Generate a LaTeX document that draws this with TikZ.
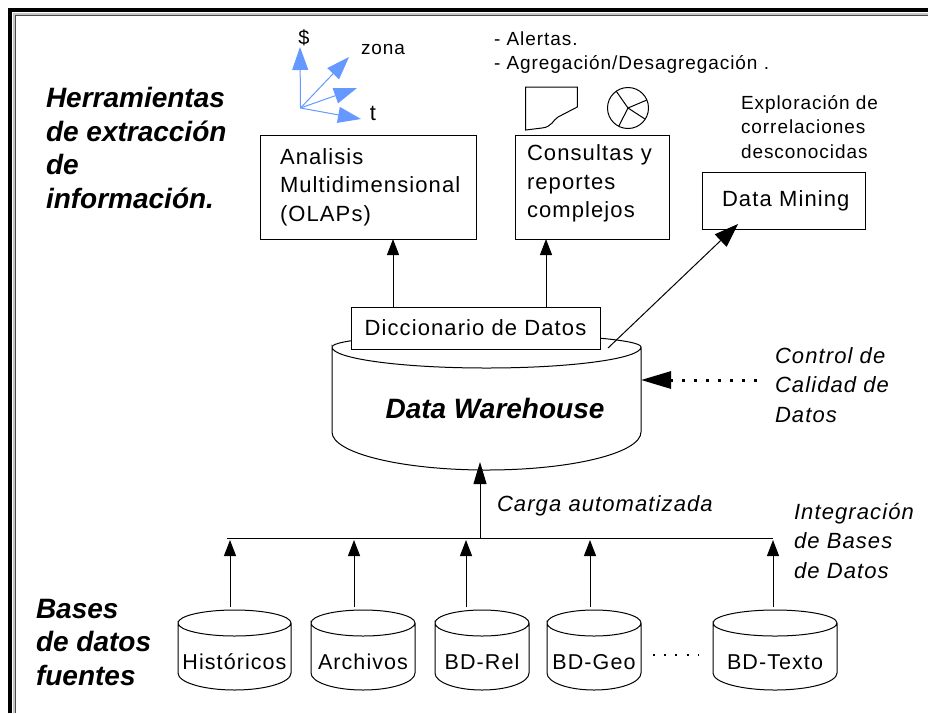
\documentclass[tikz,border=0pt]{standalone}
\usepackage{fontspec}
\setmainfont[LetterSpace=5]{Liberation Sans}
\newfontfamily\fuentetitulo{Liberation Sans}
\usetikzlibrary{positioning}
\usetikzlibrary{arrows.meta}
\definecolor{azuleje}{HTML}{6699FF}
% nodo, medio ancho, tapa detras, tapa delante, fondo
\newcommand{\cilindro}[5]{
    \draw[linea] ([yshift=-#3pt]#1.north west) arc[start angle=180, delta angle=-180, x radius=#2pt, y radius=#3pt]
        arc[start angle=0, delta angle=-180, x radius=#2pt, y radius=#4pt]
        -- ([yshift=#5pt]#1.south west) arc[start angle=180, delta angle=180, x radius=#2pt, y radius=#5pt]
        -- ([yshift=-#3pt]#1.north east);
}

\begin{document}
\begin{tikzpicture}[
        x=1pt, y=-1pt,
        every node/.style={inner sep=0pt, outer sep=0pt},
        linea/.style={line width=1pt},
        flecha/.style={linea, -{Triangle[length=16pt,width=12pt]}},
        eje/.style={line width=1pt, azuleje, -{Triangle[length=23pt,width=16pt]}},
        caja/.style={rectangle, draw, line width=1pt, fill=white, font=\fontsize{22}{28.7}\selectfont},
        base/.style={rectangle, minimum height=80pt, text height=38pt, text depth=0pt, font=\fontsize{21.5}{26}\selectfont},
        titulo/.style={align=left, anchor=west, font=\fuentetitulo\bfseries\itshape\fontsize{28}{33.5}\selectfont},
        nota/.style={align=left, anchor=west, font=\itshape\fontsize{22}{29.3}\selectfont},
        texto/.style={align=left, anchor=west, font=\fontsize{19}{24.5}\selectfont}
    ]
        \useasboundingbox (0,0) rectangle (928,713);

        % marco
        \draw[line width=4.5pt] (10.2,713) -- (10.2,10.2) -- (928,10.2);
        \draw[line width=2pt, gray!45] (13.5,713) -- (13.5,13.5) -- (928,13.5);
        \draw[line width=1.3pt, gray!60!black] (15.3,713) -- (15.3,15.3) -- (928,15.3);

        % titulos
        \node[titulo] (herramientas) at (46,148) {Herramientas\\de extracción\\de\\información.};
        \node[titulo] (fuentes) at (36,642) {Bases\\de datos\\fuentes};

        % ejes
        \coordinate (origen) at (300.5,108);
        \coordinate (ejea) at (300,47);
        \coordinate (ejeb) at (349,57);
        \coordinate (ejec) at (357,88);
        \coordinate (ejed) at (361,119);
        \foreach \e in {ejea,ejeb,ejec,ejed}
            \draw[eje] (origen) -- (\e);
        \node[font=\fontsize{20}{24}\selectfont] (dolar) at (304,38) {\$};
        \node[texto] (zona) at (361,49) {zona};
        \node[font=\fontsize{22}{24}\selectfont] (tiempo) at (373,113) {t};

        \node[texto] (alertas) at (494,52.5) {- Alertas.\\- Agregación/Desagregación .};

        % iconos
        \draw[linea] (525.7,87) -- (577.3,87) -- (577.3,107) -- (558,117) .. controls (553,120) and (552,127) .. (542,128) -- (525.7,130) -- cycle;
        \node[circle, draw, line width=1pt, minimum size=41pt] (pastel) at (628,108) {};
        \foreach \a in {125,23,-33,-117}
            \draw[linea] (pastel.center) -- (pastel.\a);

        % cajas
        \node[caja, align=left, text width=176pt, inner xsep=20pt, minimum width=216pt, minimum height=104pt] (olap) at (368,187) {Analisis\\Multidimensional\\(OLAPs)};
        \node[caja, align=left, text width=130pt, inner xsep=12pt, text depth=69pt, minimum width=154pt, minimum height=104pt] (consultas) at (592,187) {Consultas y\\reportes\\complejos};
        \node[caja, align=left, text width=123pt, inner xsep=20pt, minimum width=163pt, minimum height=57pt] (mining) at (783.5,200.5) {\mbox{Data Mining}};
        \node[texto] (exploracion) at (741,127) {Exploración de\\correlaciones\\desconocidas};

        % almacen
        \node[rectangle, minimum width=309pt, minimum height=136pt, text height=32pt, text depth=0pt, font=\fuentetitulo\bfseries\itshape\fontsize{28}{33}\selectfont] (warehouse) at (486.5,402) {\hspace*{17pt}Data Warehouse};
        \cilindro{warehouse}{154.5}{13}{21}{38}
        \node[caja, minimum width=249pt, minimum height=42pt] (dict) at (475.5,328) {Diccionario de Datos};

        \draw[flecha] ([xshift=25pt]olap.south |- dict.north) -- ([xshift=25pt]olap.south);
        \draw[flecha] ([xshift=-46pt]consultas.south |- dict.north) -- ([xshift=-46pt]consultas.south);
        \coordinate (salida) at (608,348);
        \draw[linea, -{Triangle[length=24pt,width=17pt]}] (salida) -- ([xshift=36pt,yshift=5pt]mining.south west);

        % control de calidad
        \node[nota] (calidad) at (775,385) {Control de\\Calidad de\\Datos};
        \coordinate (puntoc) at (757,380);
        \draw[line width=3pt, dash pattern=on 3pt off 9pt, -{Triangle[length=30pt,width=17pt]}] (puntoc) -- (warehouse.east |- puntoc);

        % bases fuente
        \node[base, minimum width=113pt] (hist) at (234.5,650) {Históricos};
        \node[base, minimum width=104pt, right=20pt of hist] (archivos) {Archivos};
        \node[base, minimum width=94pt, right=20pt of archivos] (rel) {BD-Rel};
        \node[base, minimum width=94pt, right=18pt of rel] (geo) {BD-Geo};
        \node[base, minimum width=124pt, right=72pt of geo] (textodb) {BD-Texto};
        \cilindro{hist}{56.5}{13}{13}{17}
        \cilindro{archivos}{52}{13}{13}{17}
        \cilindro{rel}{47}{13}{13}{17}
        \cilindro{geo}{47}{13}{13}{17}
        \cilindro{textodb}{62}{13}{13}{17}
        \draw[line width=2pt, dash pattern=on 2pt off 9.2pt] ([xshift=12pt,yshift=-5pt]geo.east) -- ([xshift=-15pt,yshift=-5pt]textodb.west);

        % bus
        \coordinate (busizq) at (227,538);
        \coordinate (busder) at (773,538);
        \coordinate (busmedio) at (480,538);
        \draw[linea] (busizq) -- (busder);
        \draw[flecha, -{Triangle[length=22pt,width=13pt]}] (busmedio) -- ([xshift=-6.5pt,yshift=8pt]warehouse.south);
        \foreach \db/\xpos in {hist/230,archivos/354,rel/466,geo/590,textodb/773} {
            \coordinate (t\db) at (\xpos,540);
            \draw[flecha] ([yshift=3pt]\db.north -| t\db) -- (t\db);
        }
        \node[nota, anchor=base west] (carga) at (497,511) {Carga automatizada};
        \node[nota] (integracion) at (794,541) {Integración\\de Bases\\de Datos};
    \end{tikzpicture}
\end{document}
